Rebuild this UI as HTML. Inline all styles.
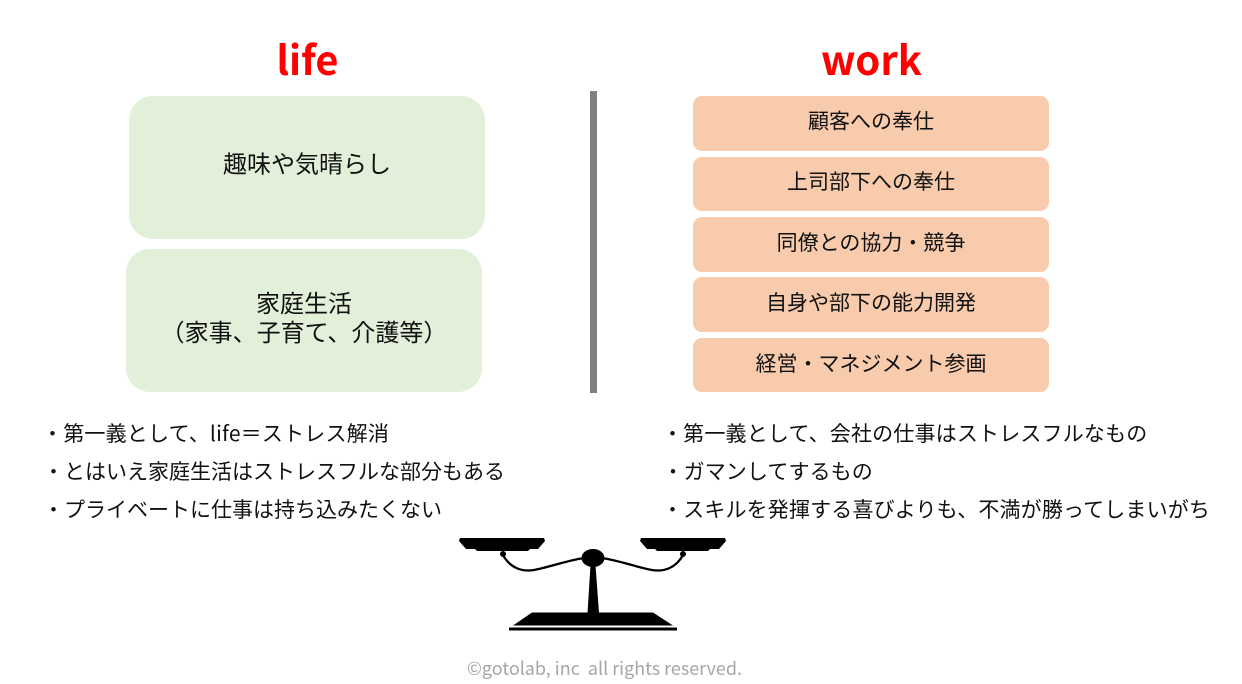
<!DOCTYPE html>
<html lang="ja">
<head>
<meta charset="utf-8">
<style>
html,body{margin:0;padding:0;background:#fff;width:1242px;height:684px;overflow:hidden}
svg{display:block}
text{font-family:"Liberation Sans","Noto Sans CJK JP",sans-serif;fill:#111}
.jp{font-family:"Noto Sans CJK JP",sans-serif;font-weight:400}
.t{font-family:"Noto Sans CJK JP",sans-serif;font-weight:700;fill:#ff0000;font-size:40px}
</style>
</head>
<body>
<svg width="1242" height="684" viewBox="0 0 1242 684" xmlns="http://www.w3.org/2000/svg">
<rect width="1242" height="684" fill="#fff"/>
<text class="t" x="307.500" y="75" text-anchor="middle" textLength="62" lengthAdjust="spacingAndGlyphs">life</text>
<text class="t" x="871.500" y="75" text-anchor="middle" textLength="101" lengthAdjust="spacingAndGlyphs">work</text>

<rect x="129" y="96" width="356" height="143" rx="24" fill="#e2efd9"/>
<rect x="126" y="249" width="356" height="143" rx="24" fill="#e2efd9"/>
<text class="jp" x="307" y="172.500" font-size="24" text-anchor="middle">趣味や気晴らし</text>
<text class="jp" x="304" y="312" font-size="24" text-anchor="middle">家庭生活</text>
<text class="jp" x="304" y="341" font-size="24" text-anchor="middle">（家事、子育て、介護等）</text>

<rect x="590" y="91" width="7" height="302" fill="#7f7f7f"/>

<g fill="#f8cbad">
<rect x="693" y="96" width="356" height="55" rx="9"/>
<rect x="693" y="157" width="356" height="54" rx="9"/>
<rect x="693" y="217" width="356" height="55" rx="9"/>
<rect x="693" y="277" width="356" height="55" rx="9"/>
<rect x="693" y="338" width="356" height="54" rx="9"/>
</g>
<g font-size="21" text-anchor="middle">
<text class="jp" x="871" y="128.500">顧客への奉仕</text>
<text class="jp" x="871" y="189">上司部下への奉仕</text>
<text class="jp" x="871" y="250">同僚との協力・競争</text>
<text class="jp" x="871" y="310">自身や部下の能力開発</text>
<text class="jp" x="871" y="371">経営・マネジメント参画</text>
</g>

<g font-size="21">
<text class="jp" x="42" y="441" letter-spacing="0.2">・第一義として、life＝ストレス解消</text>
<text class="jp" x="43" y="479">・とはいえ家庭生活はストレスフルな部分もある</text>
<text class="jp" x="43" y="517">・プライベートに仕事は持ち込みたくない</text>
<text class="jp" x="662" y="441" letter-spacing="0.18">・第一義として、会社の仕事はストレスフルなもの</text>
<text class="jp" x="662.500" y="479" letter-spacing="0.1">・ガマンしてするもの</text>
<text class="jp" x="662" y="517" letter-spacing="0.16">・スキルを発揮する喜びよりも、不満が勝ってしまいがち</text>
</g>

<!-- balance scale -->
<g fill="#000">
<path d="M460 538H544L545 541L538 549H530L528 551H477L475 549H466L459 541Z"/>
<path d="M641 538H725L726 541L719 549H710L708 551H657L655 549H647L640 541Z"/>
<circle cx="503" cy="554" r="3"/>
<circle cx="683" cy="554" r="3"/>
<ellipse cx="593" cy="558" rx="11.500" ry="9"/>
<path d="M590.500 565H595.500L599 613H587.500Z"/>
<path d="M532 612.500H653L673 625.500H513Z"/>
<rect x="509" y="627.500" width="168" height="3"/>
</g>
<g fill="none" stroke="#000" stroke-width="2.300">
<path d="M503 555C510 568 522 572 534 570C550 567 565 561 584 558"/>
<path d="M683 555C676 568 664 572 652 570C636 567 621 561 602 558"/>
</g>

<text class="jp" x="467" y="675" font-size="18" textLength="275" lengthAdjust="spacingAndGlyphs" style="fill:#a6a6a6" xml:space="preserve">©gotolab, inc  all rights reserved.</text>
</svg>
</body>
</html>
